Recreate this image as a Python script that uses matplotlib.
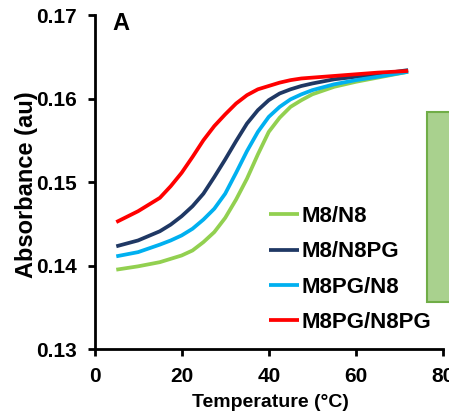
import matplotlib
matplotlib.use("Agg")
import matplotlib.pyplot as plt
from matplotlib.patches import Rectangle

plt.rcParams['font.family'] = ['Liberation Sans', 'DejaVu Sans']
plt.rcParams['font.weight'] = 'bold'

temps = [5, 10, 15, 17.5, 20, 22.5, 25, 27.5, 30, 32.5, 35, 37.5, 40, 42.5, 45, 47.5, 50, 55, 60, 65, 72]
m8_n8 = [0.1395, 0.1399, 0.1404, 0.1408, 0.1412, 0.1418, 0.1428, 0.1440, 0.1457, 0.1479, 0.1504,
         0.1533, 0.1560, 0.1577, 0.1590, 0.1598, 0.1605, 0.1614, 0.1620, 0.1625, 0.1632]
m8_n8pg = [0.1423, 0.1430, 0.1441, 0.1449, 0.1459, 0.1471, 0.1486, 0.1506, 0.1527, 0.1549, 0.1570,
           0.1586, 0.1598, 0.1606, 0.1611, 0.1615, 0.1618, 0.1623, 0.1626, 0.1629, 0.1634]
m8pg_n8 = [0.1411, 0.1416, 0.1425, 0.1430, 0.1436, 0.1444, 0.1455, 0.1468, 0.1486, 0.1511, 0.1537,
           0.1560, 0.1578, 0.1590, 0.1599, 0.1605, 0.1610, 0.1617, 0.1622, 0.1626, 0.1632]
m8pg_n8pg = [0.1452, 0.1465, 0.1481, 0.1495, 0.1511, 0.1530, 0.1550, 0.1567, 0.1581, 0.1594, 0.1604,
             0.1611, 0.1615, 0.1619, 0.1622, 0.1624, 0.1625, 0.1627, 0.1629, 0.1631, 0.1633]

labels = ['M8/N8', 'M8/N8PG', 'M8PG/N8', 'M8PG/N8PG']
colors = ['#92d050', '#1f3864', '#00b0f0', '#ff0000']
xticks = [0, 20, 40, 60, 80]
yticks = [0.13, 0.14, 0.15, 0.16, 0.17]
ytick_labels = ['0.13', '0.14', '0.15', '0.16', '0.17']

W, H = 449, 415
fig = plt.figure(figsize=(W / 100, H / 100), dpi=100)
ax = fig.add_axes([94.5 / W, 1 - 349 / H, (443 - 94.5) / W, (349 - 15) / H])

series = [m8_n8, m8_n8pg, m8pg_n8, m8pg_n8pg]
for ys, lab, c in zip(series, labels, colors):
    ax.plot(temps, ys, color=c, lw=2.7, label=lab, solid_capstyle='butt')

ax.set_xlim(0, 80)
ax.set_ylim(0.13, 0.17)
ax.set_xticks(xticks)
ax.set_yticks(yticks)
ax.set_yticklabels(ytick_labels)
for s in ['top', 'right']:
    ax.spines[s].set_visible(False)
for s in ['left', 'bottom']:
    ax.spines[s].set_linewidth(2)
ax.tick_params(axis='both', direction='out', length=5, width=2, labelsize=15)
ax.tick_params(axis='y', pad=8)
ax.tick_params(axis='x', pad=8)
for t in ax.get_xticklabels() + ax.get_yticklabels():
    t.set_fontweight('bold')

fig.text(270 / W, 1 - 402 / H, 'Temperature (°C)', fontsize=14, fontweight='bold', ha='center', va='center')
fig.text(27 / W, 1 - 185 / H, 'Absorbance (au)', fontsize=17, fontweight='bold', ha='center', va='center',
         rotation=90)

leg = ax.legend(loc='upper left', bbox_to_anchor=(258 / W, 1 - 195 / H), bbox_transform=fig.transFigure,
                frameon=False, fontsize=16, handlelength=1.35, handletextpad=0.1,
                labelspacing=0.64, borderpad=0)
for t in leg.get_texts():
    t.set_fontweight('bold')

fig.text(112 / W, 1 - 23 / H, 'A', fontsize=17, fontweight='bold', va='center', ha='left')

fig.patches.append(Rectangle((427 / W, 1 - 302 / H), 30 / W, 190 / H, transform=fig.transFigure,
                             facecolor='#a9d18e', edgecolor='#70ad47', lw=1.5))

fig.savefig('out.png', dpi=100)
